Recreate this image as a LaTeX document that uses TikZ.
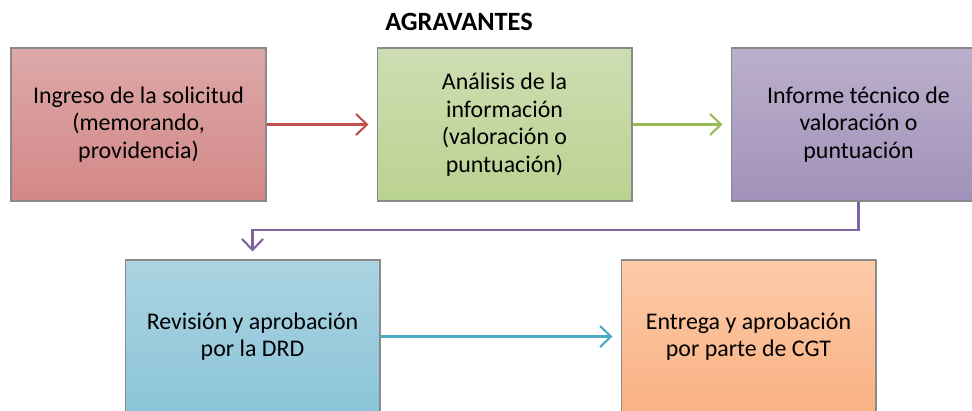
\documentclass[tikz,border=0pt]{standalone}
\usepackage{fontspec}
\setmainfont{Carlito}
\usetikzlibrary{arrows.meta, positioning}
\definecolor{cred}{HTML}{C0504D}
\definecolor{cgreen}{HTML}{9BBB59}
\definecolor{cpurple}{HTML}{8064A2}
\definecolor{ccyan}{HTML}{4BACC6}
\definecolor{cgrey}{HTML}{8A8A8A}
\definecolor{redtop}{HTML}{DDA9A9}\definecolor{redbot}{HTML}{D38787}
\definecolor{greentop}{HTML}{CEDDB2}\definecolor{greenbot}{HTML}{BAD291}
\definecolor{purpletop}{HTML}{BBB0CB}\definecolor{purplebot}{HTML}{A291BA}
\definecolor{bluetop}{HTML}{ABD3E1}\definecolor{bluebot}{HTML}{8BC5D9}
\definecolor{orangetop}{HTML}{FCCBA8}\definecolor{orangebot}{HTML}{F9B183}
\tikzset{
  every picture/.style={font=\fontsize{13.6}{15.7}\selectfont},
  box/.style={draw=cgrey, line width=0.6pt, align=center, inner sep=0pt,
    minimum width=5.1cm, minimum height=3.06cm, anchor=center},
  arrow/.style={-{Straight Barb[length=2.2mm, width=4.2mm]}, line width=1.2pt, draw=#1, shorten >=0.16cm},
  title/.style={font=\fontsize{15}{18}\selectfont\bfseries},
}
\begin{document}
\begin{tikzpicture}[x=0.02cm, y=-0.02cm,
                    r/.style={box, top color=redtop, bottom color=redbot},
                    g/.style={box, top color=greentop, bottom color=greenbot},
                    p/.style={box, top color=purpletop, bottom color=purplebot},
                    b/.style={box, top color=bluetop, bottom color=bluebot},
                    o/.style={box, top color=orangetop, bottom color=orangebot}]
  \useasboundingbox (0,0) rectangle (972,410);
  \clip (0,0) rectangle (972,410);
  % top row
  \node[title] (ttl) at (459,22) {AGRAVANTES};
  \node[r] (ing) at (138.5,124.5) {Ingreso de la solicitud\\(memorando,\\providencia)};
  \node[g] (ana) at (504.5,124.5) {Análisis de la\\información\\(valoración o\\puntuación)};
  \node[p] (inf) at (858.5,124.5) {Informe técnico de\\valoración o\\puntuación};
  % bottom row
  \node[b] (rev) at (252.5,336.5) {Revisión y aprobación\\por la DRD};
  \node[o] (ent) at (748.5,336.5) {Entrega y aprobación\\por parte de CGT};
  \coordinate (bend) at (858.5,230);
  \draw[arrow=cred] (ing) -- (ana);
  \draw[arrow=cgreen] (ana) -- (inf);
  \draw[arrow=cpurple] (inf.south) -- (bend) -| (rev.north);
  \draw[arrow=ccyan] (rev) -- (ent);
\end{tikzpicture}
\end{document}
